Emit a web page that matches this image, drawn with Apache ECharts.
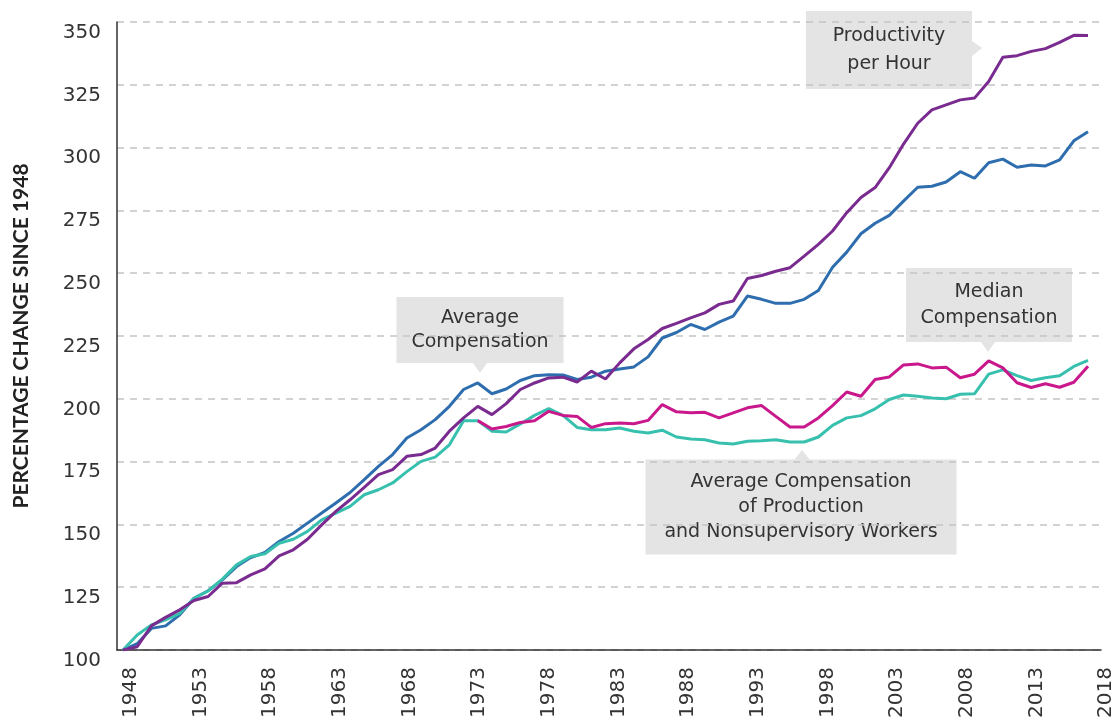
<!DOCTYPE html>
<html>
<head>
<meta charset="utf-8">
<script src="https://cdn.jsdelivr.net/npm/echarts@6/dist/echarts.min.js"></script>
<style>
  html, body { margin: 0; padding: 0; background: #fff; }
  #chart { width: 1116px; height: 727px; }
</style>
</head>
<body>
<div id="chart"></div>
<script>
// years of data, 1948 - 2016
var years = [];
for (var y = 1948; y <= 2016; y++) years.push(y);

// x axis tick labels
var tickLabels = ['1948', '1953', '1958', '1963', '1968', '1973', '1978', '1983',
                  '1988', '1993', '1998', '2003', '2008', '2013', '2018'];

// Productivity per Hour
var productivity = [100, 101.3, 109.6, 113, 116, 119.7, 121.3, 126.6, 126.8, 129.9,
  132.3, 137.5, 139.9, 144.1, 149.8, 155.2, 159.8, 164.7, 169.8, 171.8,
  177.1, 177.8, 180.4, 187.1, 192.4, 197, 193.7, 198.1, 203.7, 206.3,
  208.3, 208.6, 206.7, 211, 207.9, 214.3, 219.9, 223.6, 228, 230,
  232.2, 234.2, 237.6, 238.9, 247.9, 249.1, 250.8, 252.2, 256.8, 261.5,
  266.8, 274.1, 280.1, 284.1, 292, 301.4, 309.7, 315, 317, 319,
  319.7, 326.3, 336, 336.6, 338.3, 339.4, 341.9, 344.7, 344.6];

// Average Compensation
var avgComp = [100, 102.5, 108.6, 109.6, 114, 120.6, 123.6, 127.9, 133.2, 136.8,
  138.8, 143.2, 146.5, 150.5, 154.5, 158.5, 162.7, 167.8, 173.1, 177.8,
  184.4, 187.7, 191.7, 197, 203.7, 206.3, 202, 203.9, 207.3, 209.2,
  209.6, 209.5, 207.7, 208.6, 211, 211.9, 212.7, 216.7, 224.2, 226.4,
  229.6, 227.6, 230.5, 232.9, 240.9, 239.6, 238, 238, 239.6, 243.1,
  252.4, 258.4, 265.7, 269.9, 273, 278.7, 284.2, 284.6, 286.3, 290.4,
  287.8, 294, 295.4, 292.2, 293.1, 292.7, 295.1, 302.7, 306.3];

// Average Compensation of Production and Nonsupervisory Workers
var prodWorkers = [100, 106, 110, 112, 114.6, 120.6, 123.5, 128.2, 133.9, 137.2,
  138.3, 142.5, 144.1, 147.2, 151.8, 154.5, 157.2, 161.8, 163.8, 166.5,
  171, 175.1, 176.8, 181.7, 191.3, 191.3, 187.1, 186.8, 190, 193.4,
  196.1, 193.4, 188.6, 187.7, 187.7, 188.4, 187.1, 186.4, 187.5, 184.8,
  184, 183.7, 182.4, 182, 183.1, 183.3, 183.7, 182.8, 182.8, 184.8,
  189.4, 192.4, 193.3, 196, 199.7, 201.5, 201, 200.3, 200, 201.8,
  202, 209.8, 211.5, 209.2, 207.3, 208.4, 209.2, 212.9, 215.3];

// Median Compensation (series starts 1973)
var medianComp = [null, null, null, null, null, null, null, null, null, null,
  null, null, null, null, null, null, null, null, null, null,
  null, null, null, null, null, 191.3, 188, 189, 190.6, 191.3,
  195, 193.4, 193, 188.6, 190.1, 190.4, 190.1, 191.4, 197.7, 194.8,
  194.4, 194.6, 192.4, 194.4, 196.4, 197.3, 193, 188.8, 188.8, 192.4,
  197.3, 202.7, 201, 207.7, 208.7, 213.5, 213.9, 212.3, 212.6, 208.4,
  209.8, 215.1, 212.3, 206.4, 204.5, 206, 204.6, 206.6, 213];

function pairs(vals) {
    var out = [];
    for (var i = 0; i < years.length; i++) {
        out.push([years[i], vals[i] == null ? '-' : vals[i]]);
    }
    return out;
}

var FONT = 'DejaVu Sans';
var TXT = '#333';
var BOX = '#e4e4e4';

// callout box: rect + little pointer triangle + text
function callout(cx, cy, w, h, pointer, text, lh) {
    return {
        type: 'group',
        children: [
            { type: 'polygon', shape: { points: pointer }, style: { fill: BOX } },
            { type: 'rect', shape: { x: cx - w / 2, y: cy - h / 2, width: w, height: h },
              style: { fill: BOX } },
            { type: 'text', style: {
                text: text, x: cx, y: cy, align: 'center', verticalAlign: 'middle',
                fontFamily: FONT, fontSize: 19, lineHeight: lh, fill: TXT } }
        ]
    };
}

var chart = echarts.init(document.getElementById('chart'));

var option = {
    animation: false,
    grid: [
        { left: 117, right: 15, top: 22, bottom: 77 },   // data
        { left: 131, right: 9, top: 22, bottom: 77 }     // x labels only
    ],
    xAxis: [{
        type: 'value',
        gridIndex: 0,
        min: 1947.577,
        max: 2016.916,
        axisLine: { show: true, onZero: false, lineStyle: { color: '#333', width: 1.5 } },
        axisTick: { show: false },
        axisLabel: { show: false },
        splitLine: { show: false }
    }, {
        type: 'category',
        gridIndex: 1,
        data: tickLabels,
        boundaryGap: false,
        axisLine: { show: false },
        axisTick: { show: false },
        splitLine: { show: false },
        axisLabel: {
            interval: 0,
            rotate: 90,
            margin: 17,
            fontFamily: FONT,
            fontSize: 20,
            color: TXT
        }
    }],
    yAxis: [{
        type: 'value',
        gridIndex: 0,
        min: 100,
        max: 350,
        interval: 25,
        name: 'PERCENTAGE CHANGE SINCE 1948',
        nameLocation: 'middle',
        nameGap: 85,
        nameTextStyle: { fontFamily: 'Lato', fontWeight: 'bold', fontSize: 21, color: '#222' },
        axisLine: { show: true, lineStyle: { color: '#333', width: 1.5 } },
        axisTick: { show: false },
        axisLabel: {
            margin: 16,
            fontFamily: FONT,
            fontSize: 20,
            color: TXT,
            verticalAlign: 'top',
            lineHeight: 21
        },
        splitLine: { show: true, lineStyle: { color: '#c4c4c4', width: 1.5, type: [7, 6] } }
    }, {
        type: 'value',
        gridIndex: 1,
        min: 100,
        max: 350,
        show: false
    }],
    series: [{
        name: 'Average Compensation',
        type: 'line',
        data: pairs(avgComp),
        showSymbol: false,
        lineStyle: { color: '#2e6eae', width: 3 }
    }, {
        name: 'Average Compensation of Production and Nonsupervisory Workers',
        type: 'line',
        data: pairs(prodWorkers),
        showSymbol: false,
        lineStyle: { color: '#38c0ae', width: 3 }
    }, {
        name: 'Median Compensation',
        type: 'line',
        data: pairs(medianComp),
        showSymbol: false,
        lineStyle: { color: '#c9188c', width: 3 }
    }, {
        name: 'Productivity per Hour',
        type: 'line',
        data: pairs(productivity),
        showSymbol: false,
        lineStyle: { color: '#7a2b8f', width: 3 }
    }],
    graphic: [
        callout(889, 50, 166, 78, [[972, 41], [982, 48], [972, 56]], 'Productivity\nper Hour', 28),
        callout(480, 330, 167, 66, [[473, 363], [480, 373], [487, 363]], 'Average\nCompensation', 24),
        callout(989, 305, 166, 74, [[981, 342], [988, 352], [995, 342]], 'Median\nCompensation', 26),
        callout(801, 507, 311, 95, [[794, 460], [802, 450], [810, 460]],
            'Average Compensation\nof Production\nand Nonsupervisory Workers', 25)
    ]
};

chart.setOption(option);
</script>
</body>
</html>
